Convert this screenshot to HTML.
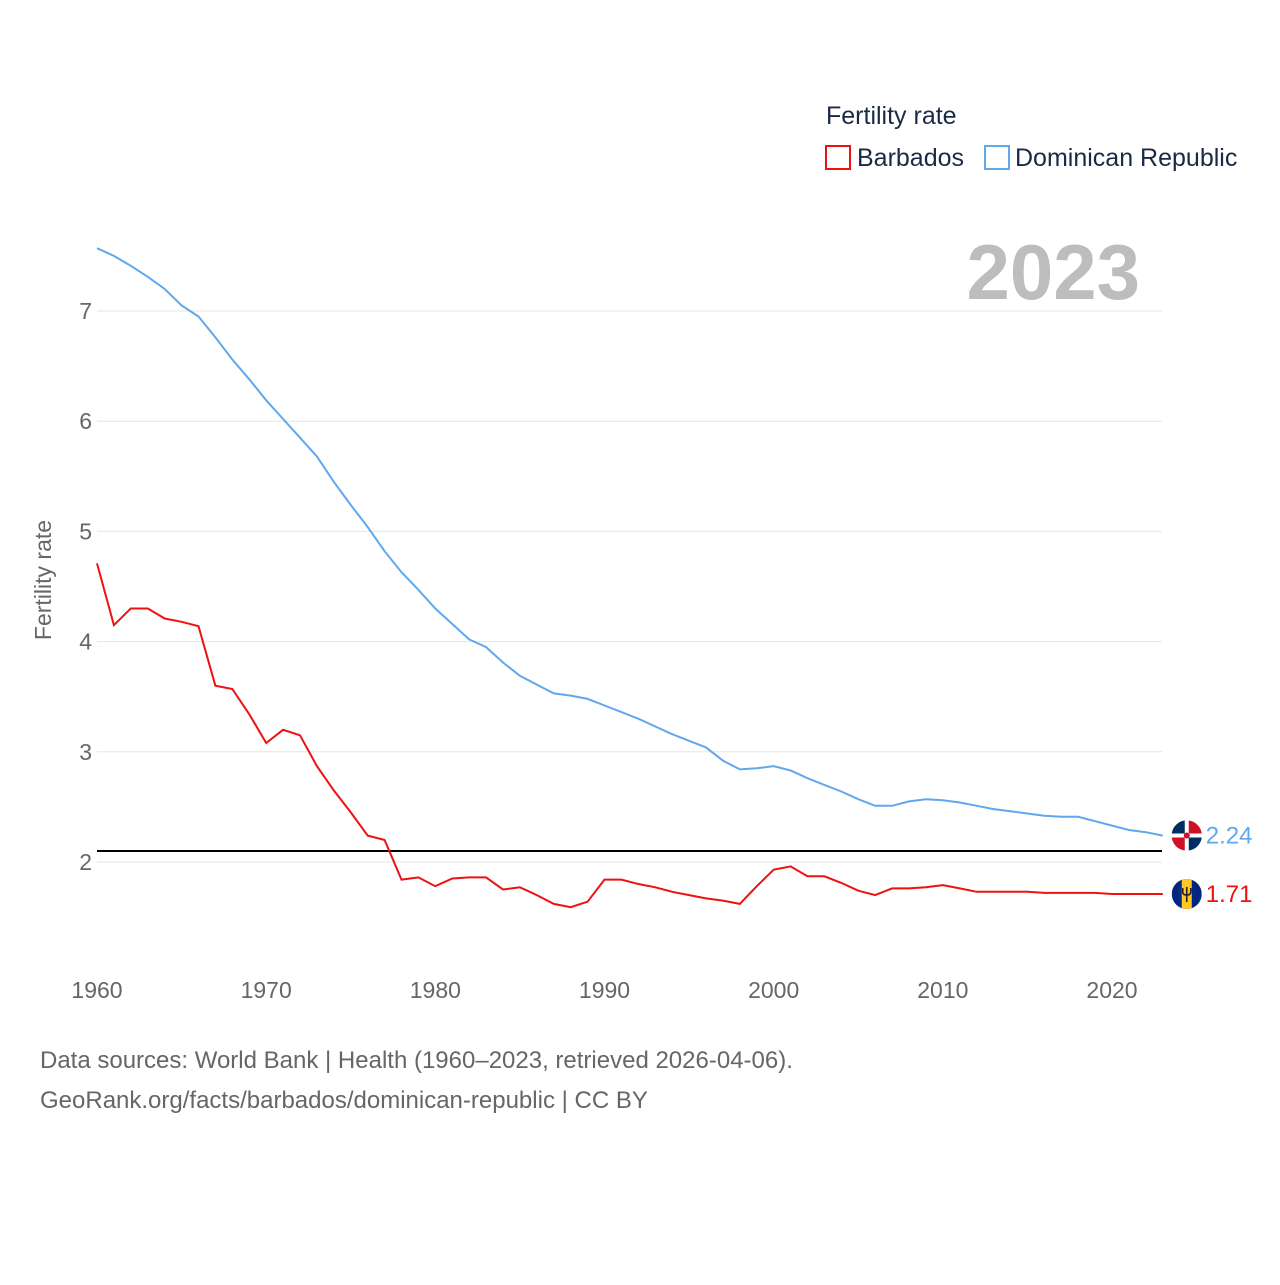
<!DOCTYPE html>
<html><head><meta charset="utf-8"><style>
body{margin:0;background:#fff;font-family:"Liberation Sans",sans-serif}
svg text{font-family:"Liberation Sans",sans-serif}
</style></head><body>
<svg id="c" width="1280" height="1280" xmlns="http://www.w3.org/2000/svg">
<defs><clipPath id="bbclip"><circle cx="0" cy="0" r="15"/></clipPath></defs>
<text x="826" y="124" font-size="25" fill="#1a2a44">Fertility rate</text>
<g><rect x="826" y="146" width="24" height="23" fill="none" stroke="#ee1111" stroke-width="2"/><text x="857" y="166" font-size="25" fill="#1a2a44">Barbados</text></g>
<g><rect x="985" y="146" width="24" height="23" fill="none" stroke="#5fa8ee" stroke-width="2"/><text x="1015" y="166" font-size="25" fill="#1a2a44">Dominican Republic</text></g>
<text x="1140" y="299" font-size="78" font-weight="bold" fill="#bdbdbd" text-anchor="end">2023</text>
<text transform="translate(51,580) rotate(-90)" font-size="23" fill="#666" text-anchor="middle">Fertility rate</text>
<g id="grid"></g><g id="lines"></g>
<text x="40" y="1068" font-size="24" fill="#666">Data sources: World Bank | Health (1960–2023, retrieved 2026-04-06).</text>
<text x="40" y="1108" font-size="24" fill="#666">GeoRank.org/facts/barbados/dominican-republic | CC BY</text>
</svg>
<script>
const years=[];for(let y=1960;y<=2023;y++)years.push(y);
const yTicks=[2,3,4,5,6,7];
const xTicks=[1960,1970,1980,1990,2000,2010,2020];
const refValue=2.1;
const domRep=[7.57,7.50,7.41,7.31,7.20,7.05,6.95,6.76,6.56,6.38,6.19,6.02,5.85,5.68,5.45,5.24,5.04,4.82,4.63,4.47,4.30,4.16,4.02,3.95,3.81,3.69,3.61,3.53,3.51,3.48,3.42,3.36,3.30,3.23,3.16,3.10,3.04,2.92,2.84,2.85,2.87,2.83,2.76,2.70,2.64,2.57,2.51,2.51,2.55,2.57,2.56,2.54,2.51,2.48,2.46,2.44,2.42,2.41,2.41,2.37,2.33,2.29,2.27,2.24];
const barbados=[4.71,4.15,4.30,4.30,4.21,4.18,4.14,3.60,3.57,3.34,3.08,3.20,3.15,2.87,2.65,2.45,2.24,2.20,1.84,1.86,1.78,1.85,1.86,1.86,1.75,1.77,1.70,1.62,1.59,1.64,1.84,1.84,1.80,1.77,1.73,1.70,1.67,1.65,1.62,1.78,1.93,1.96,1.87,1.87,1.81,1.74,1.70,1.76,1.76,1.77,1.79,1.76,1.73,1.73,1.73,1.73,1.72,1.72,1.72,1.72,1.71,1.71,1.71,1.71];
const X=y=>97+(y-1960)*(1015/60);
const Y=v=>862-(v-2)*110.2;
const NS="http://www.w3.org/2000/svg";
function mk(t,a,p){const e=document.createElementNS(NS,t);for(const k in a)e.setAttribute(k,a[k]);p.appendChild(e);return e;}
const g=document.getElementById('grid'),L=document.getElementById('lines');
yTicks.forEach(v=>{
 const l=mk('line',{x1:97,x2:1162,y1:Y(v),y2:Y(v),stroke:'#e6e6e6'},g);
 
 
 const t=mk('text',{x:92,y:Y(v)+8,'font-size':23,fill:'#666','text-anchor':'end'},g);t.textContent=v;
 
 
});
xTicks.forEach(v=>{
 const t=mk('text',{x:X(v),y:998,'font-size':23,fill:'#666','text-anchor':'middle'},g);t.textContent=v;
 
 
});
const r=mk('line',{x1:97,x2:1162,y1:Y(refValue),y2:Y(refValue),stroke:'#000','stroke-width':2},L);


function series(d,col,name){
 const p=mk('path',{d:d.map((v,i)=>(i?'L':'M')+X(years[i]).toFixed(1)+','+Y(v).toFixed(1)).join(''),fill:'none',stroke:col,'stroke-width':2},L);
 
 
 const last=d[d.length-1],cx=X(years[years.length-1])+24,cy=Y(last);
 const fg=mk('g',{transform:`translate(${cx},${cy})`},L);
 
 
 if(name=='barbados'){
  const cg=mk('g',{'clip-path':'url(#bbclip)'},fg);
  mk('rect',{x:-15,y:-15,width:30,height:30,fill:'#00267f'},cg);
  mk('rect',{x:-5,y:-15,width:10,height:30,fill:'#ffc726'},cg);
  mk('path',{d:'M0,-7V8M-4,-6v4q0,3 4,3q4,0 4,-3v-4',fill:'none',stroke:'#222','stroke-width':1.6},fg);
 } else {
  mk('circle',{cx:0,cy:0,r:15,fill:'#fff'},fg);
  mk('path',{d:'M-15,-2h13v-13a15 15 0 0 0-13 13z M2,2h13a15 15 0 0 1-13 13z',fill:'#002d62'},fg);
  mk('path',{d:'M2,-2h13a15 15 0 0 0-13-13z M-2,2h-13a15 15 0 0 0 13 13z',fill:'#ce1126'},fg);
  mk('circle',{cx:0,cy:0,r:3,fill:'#ce1126'},fg);
 }
 const t=mk('text',{x:cx+19,y:cy+8,'font-size':24,fill:col},L);t.textContent=last.toFixed(2);
 
 
}
series(domRep,'#5fa8ee','dominican-republic');
series(barbados,'#ee1111','barbados');
</script>
</body></html>
